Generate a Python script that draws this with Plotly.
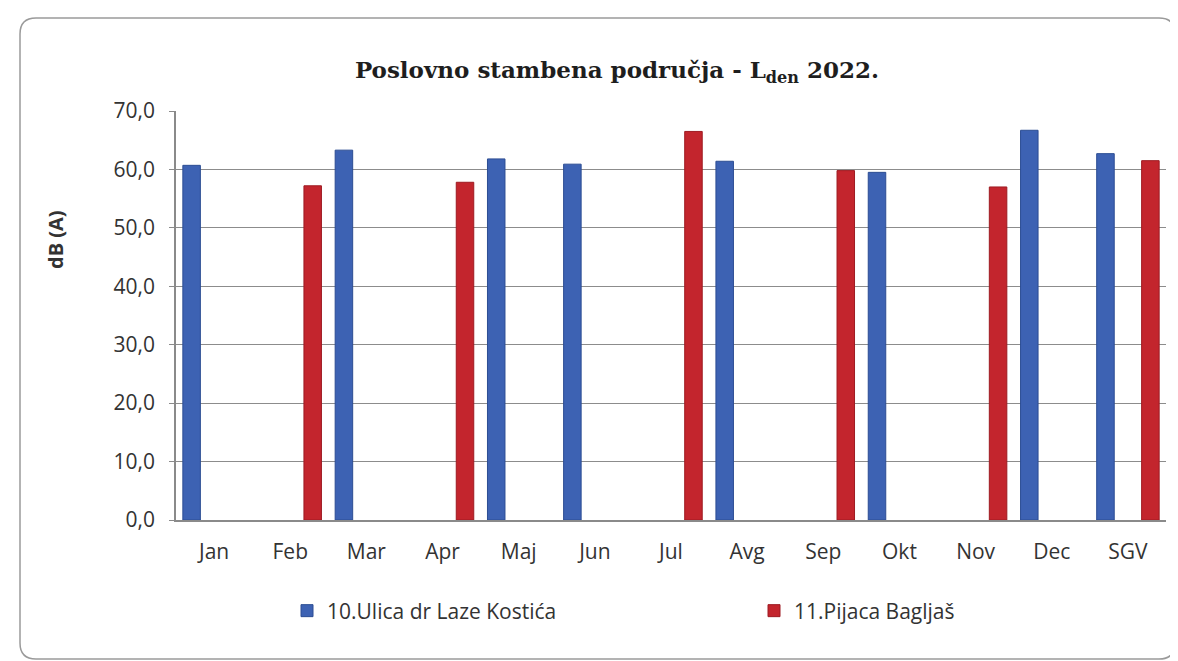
import plotly.graph_objects as go

categories = ["Jan", "Feb", "Mar", "Apr", "Maj", "Jun", "Jul", "Avg", "Sep", "Okt", "Nov", "Dec", "SGV"]
series_names = ["10.Ulica dr Laze Kostića", "11.Pijaca Bagljaš"]
laze_kostica = [60.7, None, 63.3, None, 61.8, 60.9, None, 61.4, None, 59.5, None, 66.7, 62.7]
pijaca_bagljas = [None, 57.2, None, 57.8, None, None, 66.5, None, 59.8, None, 57.0, None, 61.5]
y_ticks = [0, 10, 20, 30, 40, 50, 60, 70]

W, H = 1178, 661
ML, MR, MT, MB = 168, 20, 103, 149
PW, PH = W - ML - MR, H - MT - MB

def px(x):
    return (x - ML) / PW

def py(y):
    return (H - MB - y) / PH

BLUE = "#3d62b3"
RED = "#c3252d"

fig = go.Figure()
fig.add_trace(go.Bar(
    x=categories, y=laze_kostica, name=series_names[0],
    marker=dict(color=BLUE, line=dict(color="#2c4d93", width=1)),
    width=0.23, offset=-0.41, legend="legend",
))
fig.add_trace(go.Bar(
    x=categories, y=pijaca_bagljas, name=series_names[1],
    marker=dict(color=RED, line=dict(color="#9e1b22", width=1)),
    width=0.23, offset=0.18, legend="legend2",
))

# rounded outer chart border
x0, x1, y0, y1, r = 12, 1167, 10, 651, 16
path = (
    f"M {px(x0 + r)} {py(y0)} L {px(x1 - r)} {py(y0)} "
    f"Q {px(x1)} {py(y0)} {px(x1)} {py(y0 + r)} "
    f"L {px(x1)} {py(y1 - r)} Q {px(x1)} {py(y1)} {px(x1 - r)} {py(y1)} "
    f"L {px(x0 + r)} {py(y1)} Q {px(x0)} {py(y1)} {px(x0)} {py(y1 - r)} "
    f"L {px(x0)} {py(y0 + r)} Q {px(x0)} {py(y0)} {px(x0 + r)} {py(y0)} Z"
)

legend_font = dict(family="Open Sans", size=21, color="#333333")

fig.update_layout(
    width=W, height=H,
    margin=dict(l=ML, r=MR, t=MT, b=MB),
    paper_bgcolor="white", plot_bgcolor="white",
    separators=",.",
    barmode="overlay",
    title=dict(
        text="<b>Poslovno stambena područja - L<sub>den</sub> 2022.</b>",
        x=609 / W, xanchor="center", xref="container",
        y=1 - 62 / H, yanchor="middle", yref="container",
        font=dict(family="DejaVu Serif", size=23, color="#1e1e1e"),
    ),
    font=dict(family="Open Sans", size=21, color="#333333"),
    xaxis=dict(
        type="category", categoryorder="array", categoryarray=categories,
        showline=True, linecolor="#8a8a8a", linewidth=1.5,
        showgrid=False, ticks="", ticklabelstandoff=12,
        tickfont=dict(family="Open Sans", size=21, color="#333333"),
        range=[-0.5, len(categories) - 0.5],
    ),
    yaxis=dict(
        range=[0, 70], tickvals=y_ticks, tickformat=".1f",
        showline=True, linecolor="#8a8a8a", linewidth=1.5,
        showgrid=True, gridcolor="#8c8c8c", gridwidth=1.3,
        ticks="outside", ticklen=5, tickcolor="#8a8a8a",
        ticklabelstandoff=10, zeroline=False,
        tickfont=dict(family="Open Sans", size=21, color="#333333"),
    ),
    showlegend=True,
    legend=dict(
        orientation="h", x=px(279), xanchor="left", y=py(603), yanchor="middle",
        font=legend_font, bgcolor="rgba(0,0,0,0)",
    ),
    legend2=dict(
        orientation="h", x=px(746), xanchor="left", y=py(603), yanchor="middle",
        font=legend_font, bgcolor="rgba(0,0,0,0)",
    ),
    shapes=[dict(type="path", xref="paper", yref="paper", path=path,
                 line=dict(color="#9a9a9a", width=1.5), layer="below")],
    annotations=[dict(
        text="<b>dB (A)</b>", x=px(48), y=py(232), xref="paper", yref="paper",
        textangle=-90, showarrow=False, xanchor="center", yanchor="middle",
        font=dict(family="Open Sans", size=20, color="#333333"),
    )],
)

fig.write_html("out.html")
